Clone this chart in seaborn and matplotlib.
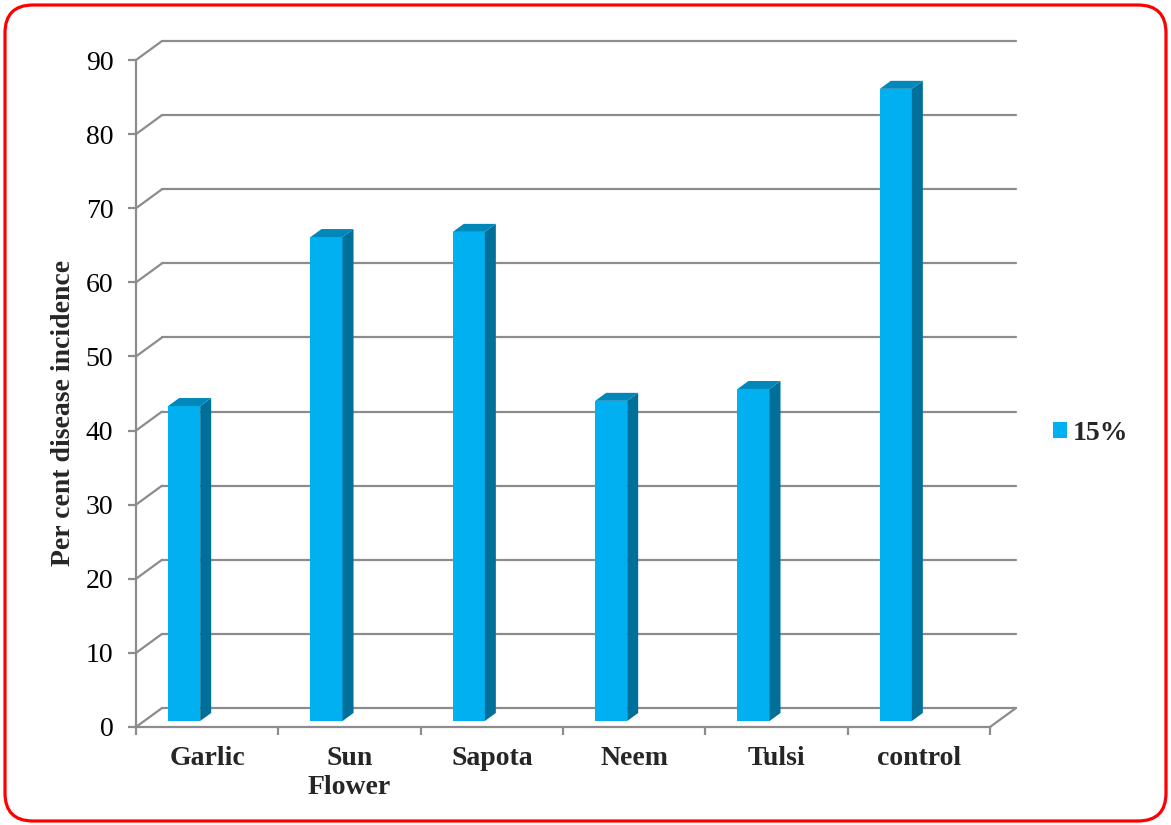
import numpy as np
import pandas as pd
import matplotlib
matplotlib.use('Agg')
import matplotlib.pyplot as plt
import matplotlib.transforms as mtransforms
from matplotlib.patches import Polygon, FancyBboxPatch, Rectangle
import seaborn as sns

# dati
categories = ['Garlic', 'Sun\nFlower', 'Sapota', 'Neem', 'Tulsi', 'control']
incidence = [42.5, 65.3, 66.0, 43.2, 44.8, 85.3]
series_label = '15%'
yticks = [0, 10, 20, 30, 40, 50, 60, 70, 80, 90]

df = pd.DataFrame({'category': categories, 'value': incidence})

sns.set_theme(style='white')
plt.rcParams['font.family'] = ['Liberation Serif', 'DejaVu Serif']

W, H = 1171, 825
face_col = '#00B0F0'
side_col = '#00709A'
top_col = '#0088BA'
grid_col = '#8C8C8C'

fig = plt.figure(figsize=(W / 100, H / 100), dpi=100)
# asse "frontale" in pixel: x 136-990, y 727 (0) - 60 (90)
ax = fig.add_axes([136 / W, 1 - 727 / H, (990 - 136) / W, (727 - 60) / H])

sns.barplot(data=df, x='category', y='value', width=0.225, color=face_col,
            saturation=1, linewidth=0, ax=ax, zorder=3)
ax.set_xlim(-0.5, 5.5)
ax.set_ylim(0, 90)

# conversione pixel -> unita' dati
px_x = 1 / ((990 - 136) / 6)
px_y = 90 / (727 - 60)
DX, DY = 26 * px_x, 19 * px_y      # profondita' parete di fondo
bdx, bdy = 11 * px_x, 8 * px_y     # profondita' delle barre

# griglia sulla parete di fondo + diagonali
for v in yticks:
    ax.plot([-0.5, -0.5 + DX], [v, v + DY], color=grid_col, lw=1.6, clip_on=False, zorder=1)
    ax.plot([-0.5 + DX, 5.5 + DX], [v + DY, v + DY], color=grid_col, lw=1.6, clip_on=False, zorder=1)
ax.plot([5.5, 5.5 + DX], [0, DY], color=grid_col, lw=1.6, clip_on=False, zorder=1)

# barre 3D: sposto la faccia frontale e aggiungo lato e cima
shift = mtransforms.offset_copy(ax.transData, fig=fig, x=-23, y=6, units='dots')
for p in list(ax.patches):
    l = p.get_x()
    r = l + p.get_width()
    v = p.get_height()
    p.set_transform(shift)
    side = Polygon([(r, 0), (r + bdx, bdy), (r + bdx, v + bdy), (r, v)],
                   closed=True, fc=side_col, ec='none', transform=shift, zorder=3, clip_on=False)
    top = Polygon([(l, v), (r, v), (r + bdx, v + bdy), (l + bdx, v + bdy)],
                  closed=True, fc=top_col, ec='none', transform=shift, zorder=3, clip_on=False)
    ax.add_patch(side)
    ax.add_patch(top)
    p.set_clip_on(False)

# assi
for s in ['top', 'right']:
    ax.spines[s].set_visible(False)
for s in ['left', 'bottom']:
    ax.spines[s].set_color(grid_col)
    ax.spines[s].set_linewidth(1.6)
    ax.spines[s].set_zorder(2)

ax.set_yticks(yticks)
ax.set_yticklabels([str(t) for t in yticks])
ax.tick_params(axis='y', length=5.8, width=1.6, color=grid_col, pad=10.5, labelsize=20,
               labelcolor='black', left=True)

ax.set_xticks(np.arange(-0.5, 6, 1))
ax.set_xticklabels([''] * 7)
ax.set_xticks(range(len(categories)), minor=True)
ax.set_xticklabels(categories, minor=True, fontweight='bold', fontsize=20)
ax.tick_params(axis='x', which='major', length=5.8, width=1.6, color=grid_col, bottom=True)
ax.tick_params(axis='x', which='minor', length=0, pad=13.5, bottom=True)
ax.set_xlabel('')

ax.set_ylabel('Per cent disease incidence', fontweight='bold', fontsize=20)
ax.yaxis.set_label_coords(-0.070, 0.4715)

# legenda
handle = Rectangle((0, 0), 1, 1, fc=face_col, ec='none')
fig.legend([handle], [series_label], loc='center left', bbox_to_anchor=(1053 / W, 1 - 433 / H),
           frameon=False, borderaxespad=0, borderpad=0, handlelength=0.5, handleheight=0.5,
           handletextpad=0.2, prop={'weight': 'bold', 'size': 20})

# bordo rosso arrotondato
border = FancyBboxPatch((5, 4), 1161, 816, boxstyle='round,pad=0,rounding_size=28',
                        transform=mtransforms.IdentityTransform(), fill=False,
                        ec='#FF0000', lw=2.3)
fig.patches.append(border)

fig.savefig('out.png', dpi=100)
